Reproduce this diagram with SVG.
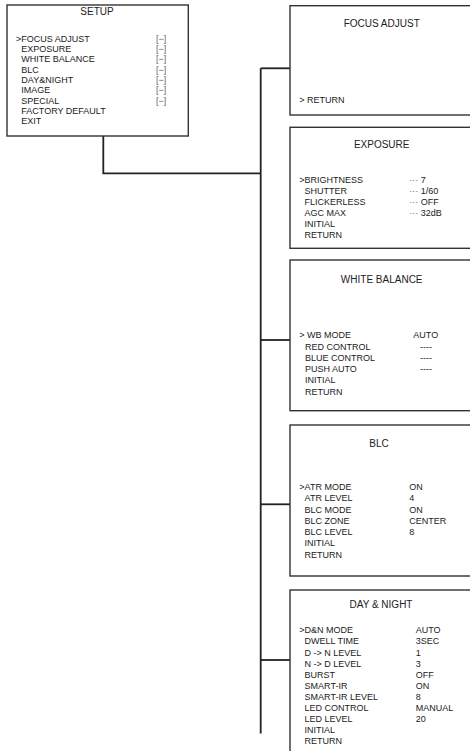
<svg xmlns="http://www.w3.org/2000/svg" width="470" height="751" viewBox="0 0 470 751">
<style>
.box{fill:#fff;stroke:#333;stroke-width:1.4}
.t{font-family:"Liberation Sans",Arial,sans-serif;font-size:10px;fill:#222;text-anchor:middle}
.b{font-family:"Liberation Sans",Arial,sans-serif;font-size:9px;fill:#222}
.g{font-family:"Liberation Sans",Arial,sans-serif;font-size:9px;fill:#666}
.c{fill:none;stroke:#222;stroke-width:1.8}
</style>
<rect width="470" height="751" fill="#fff"/>
<g id="connectors">
<polyline class="c" points="103.3,136 103.3,173.3 260.7,173.3"/>
<line class="c" x1="260.7" y1="68.3" x2="260.7" y2="733.5"/>
<line class="c" x1="260.7" y1="68.3" x2="290" y2="68.3"/>
<line class="c" x1="260.7" y1="340" x2="290" y2="340"/>
<line class="c" x1="260.7" y1="504.3" x2="290" y2="504.3"/>
<line class="c" x1="260.7" y1="660" x2="290" y2="660"/>
</g>
<g id="setup">
<rect class="box" x="7" y="5" width="181.3" height="131"/>
<text class="t" x="97" y="15">SETUP</text>
<text class="b" x="16" y="41.8">&gt;FOCUS ADJUST</text>
<text class="b" x="21.3" y="52.1">EXPOSURE</text>
<text class="b" x="21.3" y="62.4">WHITE BALANCE</text>
<text class="b" x="21.3" y="72.7">BLC</text>
<text class="b" x="21.3" y="83">DAY&amp;NIGHT</text>
<text class="b" x="21.3" y="93.3">IMAGE</text>
<text class="b" x="21.3" y="103.6">SPECIAL</text>
<text class="b" x="21.3" y="113.9">FACTORY DEFAULT</text>
<text class="b" x="21.3" y="124.2">EXIT</text>
<text class="g" x="156" y="41.8">[−]</text>
<text class="g" x="156" y="52.1">[−]</text>
<text class="g" x="156" y="62.4">[−]</text>
<text class="g" x="156" y="72.7">[−]</text>
<text class="g" x="156" y="83">[−]</text>
<text class="g" x="156" y="93.3">[−]</text>
<text class="g" x="156" y="103.6">[−]</text>
</g>
<g id="focus-adjust">
<rect class="box" x="290" y="5.7" width="190" height="109.3"/>
<text class="t" x="381.7" y="26.7">FOCUS ADJUST</text>
<text class="b" x="299.3" y="103.3">&gt; RETURN</text>
</g>
<g id="exposure">
<rect class="box" x="290" y="127.3" width="190" height="121"/>
<text class="t" x="381.7" y="148.3">EXPOSURE</text>
<text class="b" x="299.3" y="183.3">&gt;BRIGHTNESS</text>
<text class="b" x="304.6" y="194.3">SHUTTER</text>
<text class="b" x="304.6" y="205.3">FLICKERLESS</text>
<text class="b" x="304.6" y="216.3">AGC MAX</text>
<text class="b" x="304.6" y="227.3">INITIAL</text>
<text class="b" x="304.6" y="238.3">RETURN</text>
<text class="b" x="409.3" y="183.3"><tspan fill="#666">···</tspan> 7</text>
<text class="b" x="409.3" y="194.3"><tspan fill="#666">···</tspan> 1/60</text>
<text class="b" x="409.3" y="205.3"><tspan fill="#666">···</tspan> OFF</text>
<text class="b" x="409.3" y="216.3"><tspan fill="#666">···</tspan> 32dB</text>
</g>
<g id="white-balance">
<rect class="box" x="290" y="260" width="190" height="150.7"/>
<text class="t" x="381.7" y="283">WHITE BALANCE</text>
<text class="b" x="299.3" y="338.3">&gt; WB MODE</text>
<text class="b" x="305" y="349.6">RED CONTROL</text>
<text class="b" x="305" y="360.9">BLUE CONTROL</text>
<text class="b" x="305" y="372.1">PUSH AUTO</text>
<text class="b" x="305" y="383.4">INITIAL</text>
<text class="b" x="305" y="394.7">RETURN</text>
<text class="b" x="413.3" y="338.3">AUTO</text>
<text class="b" x="420" y="349.6">----</text>
<text class="b" x="420" y="360.9">----</text>
<text class="b" x="420" y="372.1">----</text>
</g>
<g id="blc">
<rect class="box" x="290" y="425" width="190" height="151"/>
<text class="t" x="379" y="446.7">BLC</text>
<text class="b" x="299.3" y="490">&gt;ATR MODE</text>
<text class="b" x="304.6" y="501.3">ATR LEVEL</text>
<text class="b" x="304.6" y="512.6">BLC MODE</text>
<text class="b" x="304.6" y="523.8">BLC ZONE</text>
<text class="b" x="304.6" y="535.1">BLC LEVEL</text>
<text class="b" x="304.6" y="546.4">INITIAL</text>
<text class="b" x="304.6" y="557.7">RETURN</text>
<text class="b" x="409.3" y="490">ON</text>
<text class="b" x="409.3" y="501.3">4</text>
<text class="b" x="409.3" y="512.6">ON</text>
<text class="b" x="409.3" y="523.8">CENTER</text>
<text class="b" x="409.3" y="535.1">8</text>
</g>
<g id="day-night">
<rect class="box" x="290" y="590" width="190" height="180"/>
<text class="t" x="381" y="608.3">DAY &amp; NIGHT</text>
<text class="b" x="299.3" y="633.3">&gt;D&amp;N MODE</text>
<text class="b" x="304.6" y="644.4">DWELL TIME</text>
<text class="b" x="304.6" y="655.5">D -&gt; N LEVEL</text>
<text class="b" x="304.6" y="666.6">N -&gt; D LEVEL</text>
<text class="b" x="304.6" y="677.7">BURST</text>
<text class="b" x="304.6" y="688.8">SMART-IR</text>
<text class="b" x="304.6" y="699.9">SMART-IR LEVEL</text>
<text class="b" x="304.6" y="711">LED CONTROL</text>
<text class="b" x="304.6" y="722.1">LED LEVEL</text>
<text class="b" x="304.6" y="733.2">INITIAL</text>
<text class="b" x="304.6" y="744.3">RETURN</text>
<text class="b" x="415.7" y="633.3">AUTO</text>
<text class="b" x="415.7" y="644.4">3SEC</text>
<text class="b" x="415.7" y="655.5">1</text>
<text class="b" x="415.7" y="666.6">3</text>
<text class="b" x="415.7" y="677.7">OFF</text>
<text class="b" x="415.7" y="688.8">ON</text>
<text class="b" x="415.7" y="699.9">8</text>
<text class="b" x="415.7" y="711">MANUAL</text>
<text class="b" x="415.7" y="722.1">20</text>
</g>
</svg>
